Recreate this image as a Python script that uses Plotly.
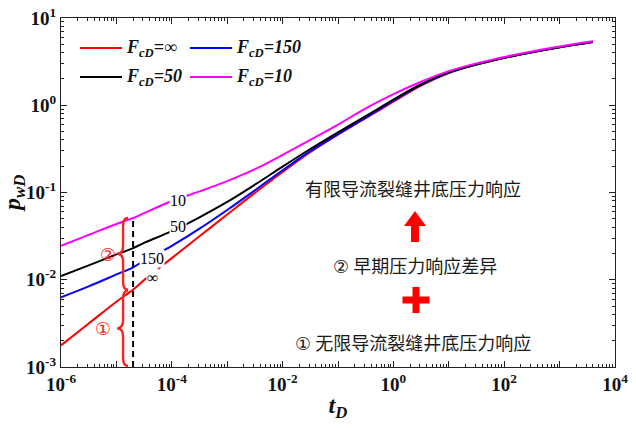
import math
import plotly.graph_objects as go

# ---------------- data ----------------
t_D = [1e-6, 3.16e-6, 1e-5, 2e-5, 3.16e-5, 1e-4, 3.16e-4, 1e-3, 3.16e-3, 1e-2,
       3.16e-2, 0.1, 0.316, 1, 3.16, 10, 31.6, 100, 316, 1000, 4000]
p_inf = [0.00177, 0.00315, 0.0056, 0.0077, 0.0099, 0.0177, 0.0315, 0.056, 0.099, 0.172,
         0.29, 0.46, 0.71, 1.10, 1.68, 2.34, 2.92, 3.48, 4.04, 4.61, 5.31]
p_150 = [0.0063, 0.0084, 0.0115, 0.0139, 0.0165, 0.0245, 0.0385, 0.063, 0.106, 0.18,
         0.298, 0.465, 0.72, 1.13, 1.71, 2.36, 2.93, 3.49, 4.05, 4.62, 5.32]
p_50 = [0.011, 0.0146, 0.0195, 0.023, 0.0265, 0.036, 0.052, 0.078, 0.123, 0.198,
        0.315, 0.49, 0.75, 1.16, 1.74, 2.38, 2.94, 3.50, 4.06, 4.63, 5.33]
p_10 = [0.0245, 0.0327, 0.0436, 0.051, 0.058, 0.08, 0.103, 0.135, 0.185, 0.27,
        0.40, 0.60, 0.92, 1.34, 1.86, 2.46, 3.02, 3.58, 4.14, 4.71, 5.40]

series_names = ["∞", "150", "50", "10"]
series_values = [p_inf, p_150, p_50, p_10]
series_colors = ["#FF0000", "#0000FF", "#000000", "#FF00FF"]

# curve labels
label_text = ["10", "50", "150", "∞"]
label_t = [1.3e-4, 1.3e-4, 4.4e-5, 4.4e-5]
label_p = [0.082, 0.041, 0.0177, 0.0107]

# dashed marker line
t_mark = 2e-5
p_mark_low = 1e-3
p_mark_top = 0.051
p_mark_mid = 0.0075

x_decades = list(range(-6, 5))
y_decades = list(range(-3, 2))

SERIF = "Liberation Serif"
CJK = "Noto Sans CJK SC"
SYM = "DejaVu Sans"

# page pixel geometry of the plot area (body margin removed by post_script)
BODY = 0
PL, PR, PT, PB = 61, 615, 18, 367
PX = 1 / (PR - PL)
PY = 1 / (PB - PT)

def px2x(px):
    return (px - PL) * PX

def py2y(py):
    return (PB - py) * PY

fig = go.Figure()
for name, vals, col in zip(series_names, series_values, series_colors):
    fig.add_trace(go.Scatter(
        x=t_D, y=vals, mode="lines",
        line=dict(color=col, width=2, shape="spline", smoothing=1.0),
        name=f"F_cD={name}", showlegend=False,
    ))

fig.add_trace(go.Scatter(
    x=[t_mark, t_mark], y=[p_mark_low, p_mark_top], mode="lines",
    line=dict(color="black", width=2, dash="6px,4px"), showlegend=False,
))

def note(x, y, text, font, **kw):
    fig.add_annotation(x=x, y=y, text=text, showarrow=False, font=font,
                       xanchor=kw.pop("xanchor", "center"), yanchor=kw.pop("yanchor", "middle"),
                       **kw)

# curve labels with white background
for txt, tx, py in zip(label_text, label_t, label_p):
    note(math.log10(tx), math.log10(py), txt, dict(family=SERIF, size=16, color="black"),
         xref="x", yref="y", bgcolor="white", borderpad=0)

def xp(t):
    return (math.log10(t) + 6) / 10.0

def yp(p):
    return (math.log10(p) + 3) / 4.0

def brace(xs, xtip, xend, ytop, ybot, d):
    ym = (ytop + ybot) / 2
    return (f"M {xend},{ytop} Q {xs},{ytop} {xs},{ytop - d} "
            f"L {xs},{ym + d} Q {xs},{ym} {xtip},{ym} "
            f"Q {xs},{ym} {xs},{ym - d} L {xs},{ybot + d} "
            f"Q {xs},{ybot} {xend},{ybot}")

xd = xp(t_mark)
shapes = []
shapes.append(dict(type="path", xref="paper", yref="paper",
                   path=brace(xd - 10 * PX, xd - 16 * PX, xd - 5 * PX,
                              yp(p_mark_mid), yp(p_mark_low) + 1 * PY, 8 * PY),
                   line=dict(color="#FF2020", width=2.4)))
shapes.append(dict(type="path", xref="paper", yref="paper",
                   path=brace(xd - 10 * PX, xd - 16 * PX, xd - 5 * PX,
                              yp(p_mark_top), yp(p_mark_mid) + 1 * PY, 8 * PY),
                   line=dict(color="#FF2020", width=2.4)))

# red arrow and plus (pixel sized)
shapes.append(dict(type="path", xref="paper", yref="paper",
                   xsizemode="pixel", ysizemode="pixel",
                   xanchor=px2x(415), yanchor=py2y(242),
                   path="M -4,0 L 4,0 L 4,16 L 11,16 L 0,31 L -11,16 L -4,16 Z",
                   fillcolor="#FF0000", line=dict(width=0)))
shapes.append(dict(type="path", xref="paper", yref="paper",
                   xsizemode="pixel", ysizemode="pixel",
                   xanchor=px2x(416), yanchor=py2y(300),
                   path=("M -13.5,3.5 L -3.5,3.5 L -3.5,13 L 3.5,13 L 3.5,3.5 L 13.5,3.5 "
                         "L 13.5,-3.5 L 3.5,-3.5 L 3.5,-13 L -3.5,-13 L -3.5,-3.5 L -13.5,-3.5 Z"),
                   fillcolor="#FF0000", line=dict(width=0)))

# legend (2 x 2), drawn manually
leg_order = [0, 1, 2, 3]
leg_cols = [80, 190, 80, 190]
leg_rows = [48, 48, 77, 77]
for i, cx, ry in zip(leg_order, leg_cols, leg_rows):
    shapes.append(dict(type="line", xref="paper", yref="paper",
                       x0=px2x(cx), x1=px2x(cx + 42), y0=py2y(ry), y1=py2y(ry),
                       line=dict(color=series_colors[i], width=2)))
    note(px2x(cx + 44), py2y(ry), f"<b><i>F<sub>cD</sub>={series_names[i]}</i></b>",
         dict(family=SERIF, size=18, color="#111"), xref="paper", yref="paper",
         xanchor="left")

# circled numbers near braces
note(px2x(108), py2y(254), "②", dict(family=SYM, size=18, color="#FF2020"),
     xref="paper", yref="paper")
note(px2x(103), py2y(328), "①", dict(family=SYM, size=18, color="#FF2020"),
     xref="paper", yref="paper")

# Chinese texts
cn_texts = ["有限导流裂缝井底压力响应",
            f'<span style="font-family:{SYM}">②</span> 早期压力响应差异',
            f'<span style="font-family:{SYM}">①</span> 无限导流裂缝井底压力响应']
cn_pos = [(413, 188), (415, 265), (413, 342)]
for txt, (px_, py_) in zip(cn_texts, cn_pos):
    note(px2x(px_), py2y(py_), txt, dict(family=CJK, size=18, color="#1a1a1a"),
         xref="paper", yref="paper")

# y axis title (placed as rotated text)
note(px2x(14), py2y(194), "<b><i>p<sub>wD</sub></i></b>",
     dict(family=SERIF, size=24, color="#111"), xref="paper", yref="paper", textangle=-90)

x_ticktext = [f"10<sup>{d}</sup>" if d % 2 == 0 else "" for d in x_decades]
y_ticktext = [f"10<sup>{d}</sup>" for d in y_decades]
x_minor = [k * 10.0 ** d for d in x_decades[:-1] for k in range(2, 10)]
y_minor = [k * 10.0 ** d for d in y_decades[:-1] for k in range(2, 10)]

axis_common = dict(
    type="log", showgrid=False, zeroline=False, automargin=False,
    showline=True, linecolor="#222", linewidth=1.3, mirror="ticks",
    ticks="inside", ticklen=6, tickwidth=1.2, tickcolor="#222",
    ticklabeloverflow="allow",
    tickfont=dict(family=SERIF, size=19, color="#111", weight="bold"),
)

W, H = 636, 429
fig.update_layout(
    width=W, height=H,
    margin=dict(l=PL - BODY, r=W - (PR - BODY), t=PT - BODY, b=H - (PB - BODY)),
    paper_bgcolor="white", plot_bgcolor="white",
    shapes=shapes, showlegend=False,
    xaxis=dict(**axis_common, range=[-6, 4],
               tickvals=[10.0 ** d for d in x_decades], ticktext=x_ticktext,
               minor=dict(tickvals=x_minor, ticks="inside", ticklen=3, tickwidth=1, tickcolor="#222"),
               title=dict(text="<b><i>t<sub>D</sub></i></b>", standoff=2,
                          font=dict(family=SERIF, size=24, color="#111"))),
    yaxis=dict(**axis_common, range=[-3, 1],
               tickvals=[10.0 ** d for d in y_decades], ticktext=y_ticktext,
               minor=dict(tickvals=y_minor, ticks="inside", ticklen=3, tickwidth=1, tickcolor="#222")),
)

fig.write_html("out.html", config={"displayModeBar": False},
               post_script="document.body.style.margin='0';")
